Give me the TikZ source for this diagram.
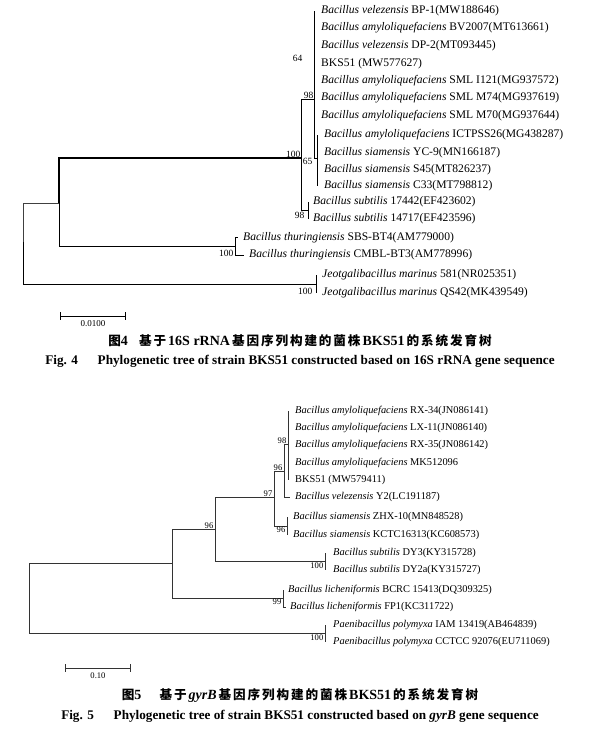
\documentclass[tikz,border=0pt]{standalone}
\usepackage{fontspec}
\setmainfont{Liberation Serif}
\newfontfamily\cjk[Scale=0.9,LetterSpace=15]{Noto Sans CJK SC}
\usepackage{tikz}

\tikzset{
  edge/.style={line width=0.8pt},
  leafa/.style={anchor=west,inner ysep=0pt,inner xsep=6pt,font=\fontsize{11.6}{12}\selectfont},
  leafb/.style={anchor=west,inner ysep=0pt,inner xsep=6pt,font=\fontsize{10.4}{11}\selectfont},
  boota/.style={inner sep=0.5pt,font=\fontsize{9.5}{10}\selectfont},
  bootb/.style={inner sep=0.5pt,font=\fontsize{8.6}{9}\selectfont},
  capzh/.style={font=\fontsize{14}{16}\selectfont\bfseries},
  capen/.style={font=\fontsize{13.2}{15}\selectfont\bfseries},
}

\begin{document}
\begin{tikzpicture}[x=1pt,y=-1pt]
\useasboundingbox (0,0) rectangle (599,733);

% Fig. 4
\coordinate (r4) at (23,242);
\coordinate (a4) at (59,203);
\coordinate (n100) at (301,158);
\coordinate (n98) at (314,99);
\coordinate (n65) at (317,158);
\coordinate (sub4) at (308,210.5);
\coordinate (thu4) at (235,246);
\coordinate (jeo4) at (316,284);

\node[leafa,inner xsep=7pt] (t1) at (314,11) {\textit{Bacillus velezensis} BP-1(MW188646)};
\node[leafa,inner xsep=7pt] (t2) at (314,28) {\textit{Bacillus amyloliquefaciens} BV2007(MT613661)};
\node[leafa,inner xsep=7pt] (t3) at (314,46) {\textit{Bacillus velezensis} DP-2(MT093445)};
\node[leafa,inner xsep=7pt] (t4) at (314,64) {BKS51 (MW577627)};
\node[leafa,inner xsep=7pt] (t5) at (314,81) {\textit{Bacillus amyloliquefaciens} SML I121(MG937572)};
\node[leafa,inner xsep=7pt] (t6) at (314,98) {\textit{Bacillus amyloliquefaciens} SML M74(MG937619)};
\node[leafa,inner xsep=7pt] (t7) at (314,116) {\textit{Bacillus amyloliquefaciens} SML M70(MG937644)};
\node[leafa,inner xsep=7pt] (t8) at (317,135) {\textit{Bacillus amyloliquefaciens} ICTPSS26(MG438287)};
\node[leafa,inner xsep=7pt] (t9) at (317,153) {\textit{Bacillus siamensis} YC-9(MN166187)};
\node[leafa,inner xsep=7pt] (t10) at (317,170) {\textit{Bacillus siamensis} S45(MT826237)};
\node[leafa,inner xsep=7pt] (t11) at (317,186) {\textit{Bacillus siamensis} C33(MT798812)};
\node[leafa,inner xsep=5pt] (t12) at (308,202) {\textit{Bacillus subtilis} 17442(EF423602)};
\node[leafa,inner xsep=5pt] (t13) at (308,219) {\textit{Bacillus subtilis} 14717(EF423596)};
\node[leafa,inner xsep=5pt] (t14) at (238,237.5) {\textit{Bacillus thuringiensis} SBS-BT4(AM779000)};
\node[leafa,inner xsep=5pt] (t15) at (244,255) {\textit{Bacillus thuringiensis} CMBL-BT3(AM778996)};
\node[leafa] (t16) at (316,275) {\textit{Jeotgalibacillus marinus} 581(NR025351)};
\node[leafa] (t17) at (316,293) {\textit{Jeotgalibacillus marinus} QS42(MK439549)};

\draw[edge,black!75] (r4) |- (a4);
\draw[edge] (r4) |- (jeo4);
\draw[line width=1.8pt] (a4) |- (n100);
\draw[edge] (a4) |- (thu4);
\draw[edge] (n100) |- (n98);
\draw[edge] (n100) |- (sub4);
\draw[edge] (n98) |- (n65);
\foreach \t in {t1,t2,t3,t4,t5,t6,t7} \draw[edge] (n98) |- (\t.west);
\foreach \t in {t8,t9,t10,t11} \draw[edge] (n65) |- (\t.west);
\foreach \t in {t12,t13} \draw[edge] (sub4) |- (\t.west);
\foreach \t in {t14,t15} \draw[edge] (thu4) |- (\t.west);
\foreach \t in {t16,t17} \draw[edge] (jeo4) |- (\t.west);

\node[boota,anchor=south east] (b100) at (n100) {100};
\node[boota,anchor=south east] (b98) at (n98) {98};
\node[boota,anchor=east] (b64) at (303,58) {64};
\node[boota,anchor=north east] (b65) at (313,158) {65};
\node[boota,anchor=east] (b98s) at (305,215) {98};
\node[boota,anchor=east] (b100t) at (234,253) {100};
\node[boota,anchor=east] (b100j) at (313,291) {100};

\coordinate (sb4a) at (60,316);
\coordinate (sb4b) at (126,316);
\draw[edge,|-|] (sb4a) -- (sb4b) node[midway,below=1pt,font=\fontsize{9}{10}\selectfont] (s4) {0.0100};

\node[capzh] (zh4) at (300,341) {{\cjk 图}4\hspace{0.8em}{\cjk 基于}\hspace{2pt}16S rRNA\hspace{2pt}{\cjk 基因序列构建的菌株}\hspace{2pt}BKS51\hspace{2pt}{\cjk 的系统发育树}};
\node[capen] (en4) at (300,361) {Fig. 4\hspace{1.5em}Phylogenetic tree of strain BKS51 constructed based on 16S rRNA gene sequence};

% Fig. 5
\coordinate (r5) at (29,598);
\coordinate (b5) at (172,563);
\coordinate (c5) at (215,529);
\coordinate (d5) at (274,497);
\coordinate (e5) at (284,471);
\coordinate (f5) at (288,444);
\coordinate (sia5) at (287,526);
\coordinate (sub5) at (325,561.5);
\coordinate (lic5) at (283,598);
\coordinate (pae5) at (325,633.5);

\node[leafb,inner xsep=7pt] (u1) at (288,411) {\textit{Bacillus amyloliquefaciens} RX-34(JN086141)};
\node[leafb,inner xsep=7pt] (u2) at (288,428) {\textit{Bacillus amyloliquefaciens} LX-11(JN086140)};
\node[leafb,inner xsep=7pt] (u3) at (288,445) {\textit{Bacillus amyloliquefaciens} RX-35(JN086142)};
\node[leafb,inner xsep=7pt] (u4) at (288,463) {\textit{Bacillus amyloliquefaciens} MK512096};
\node[leafb,inner xsep=7pt] (u5) at (288,480) {BKS51 (MW579411)};
\node[leafb,inner xsep=5pt] (u6) at (290,497) {\textit{Bacillus velezensis} Y2(LC191187)};
\node[leafb] (u7) at (287,517) {\textit{Bacillus siamensis} ZHX-10(MN848528)};
\node[leafb] (u8) at (287,535) {\textit{Bacillus siamensis} KCTC16313(KC608573)};
\node[leafb,inner xsep=8pt] (u9) at (325,553) {\textit{Bacillus subtilis} DY3(KY315728)};
\node[leafb,inner xsep=8pt] (u10) at (325,570) {\textit{Bacillus subtilis} DY2a(KY315727)};
\node[leafb,inner xsep=5pt] (u11) at (283,590) {\textit{Bacillus licheniformis} BCRC 15413(DQ309325)};
\node[leafb,inner xsep=4pt] (u12) at (286,607) {\textit{Bacillus licheniformis} FP1(KC311722)};
\node[leafb,inner xsep=8pt] (u13) at (325,625) {\textit{Paenibacillus polymyxa} IAM 13419(AB464839)};
\node[leafb,inner xsep=8pt] (u14) at (325,642) {\textit{Paenibacillus polymyxa} CCTCC 92076(EU711069)};

\begin{scope}[black!80]
\draw[edge] (r5) |- (b5);
\draw[edge] (r5) |- (pae5);
\draw[edge] (b5) |- (c5);
\draw[edge] (b5) |- (lic5);
\draw[edge] (c5) |- (d5);
\draw[edge] (c5) |- (sub5);
\draw[edge] (d5) |- (e5);
\draw[edge] (d5) |- (sia5);
\draw[edge] (e5) |- (f5);
\draw[edge] (e5) |- (u6.west);
\foreach \u in {u1,u2,u3,u4,u5} \draw[edge] (f5) |- (\u.west);
\foreach \u in {u7,u8} \draw[edge] (sia5) |- (\u.west);
\foreach \u in {u9,u10} \draw[edge] (sub5) |- (\u.west);
\foreach \u in {u11,u12} \draw[edge] (lic5) |- (\u.west);
\foreach \u in {u13,u14} \draw[edge] (pae5) |- (\u.west);
\end{scope}

\node[bootb,anchor=south east] (c98) at (287,444) {98};
\node[bootb,anchor=south east] (c96e) at (283,471) {96};
\node[bootb,anchor=south east] (c97) at (273,497) {97};
\node[bootb,anchor=south east] (c96c) at (214,529) {96};
\node[bootb,anchor=north east] (c96s) at (286,526) {96};
\node[bootb,anchor=north east] (c100s) at (324,562) {100};
\node[bootb,anchor=north east] (c99) at (282,598) {99};
\node[bootb,anchor=north east] (c100p) at (324,634) {100};

\coordinate (sb5a) at (65,668);
\coordinate (sb5b) at (131,668);
\draw[edge,black!80,|-|] (sb5a) -- (sb5b) node[midway,below=1pt,black,font=\fontsize{8.6}{10}\selectfont] (s5) {0.10};

\node[capzh] (zh5) at (300,696) {{\cjk 图}5\hspace{1.3em}{\cjk 基于}\hspace{2pt}\textit{gyrB}\hspace{2pt}{\cjk 基因序列构建的菌株}\hspace{2pt}BKS51\hspace{2pt}{\cjk 的系统发育树}};
\node[capen] (en5) at (300,716) {Fig. 5\hspace{1.5em}Phylogenetic tree of strain BKS51 constructed based on \textit{gyrB} gene sequence};
\end{tikzpicture}
\end{document}
